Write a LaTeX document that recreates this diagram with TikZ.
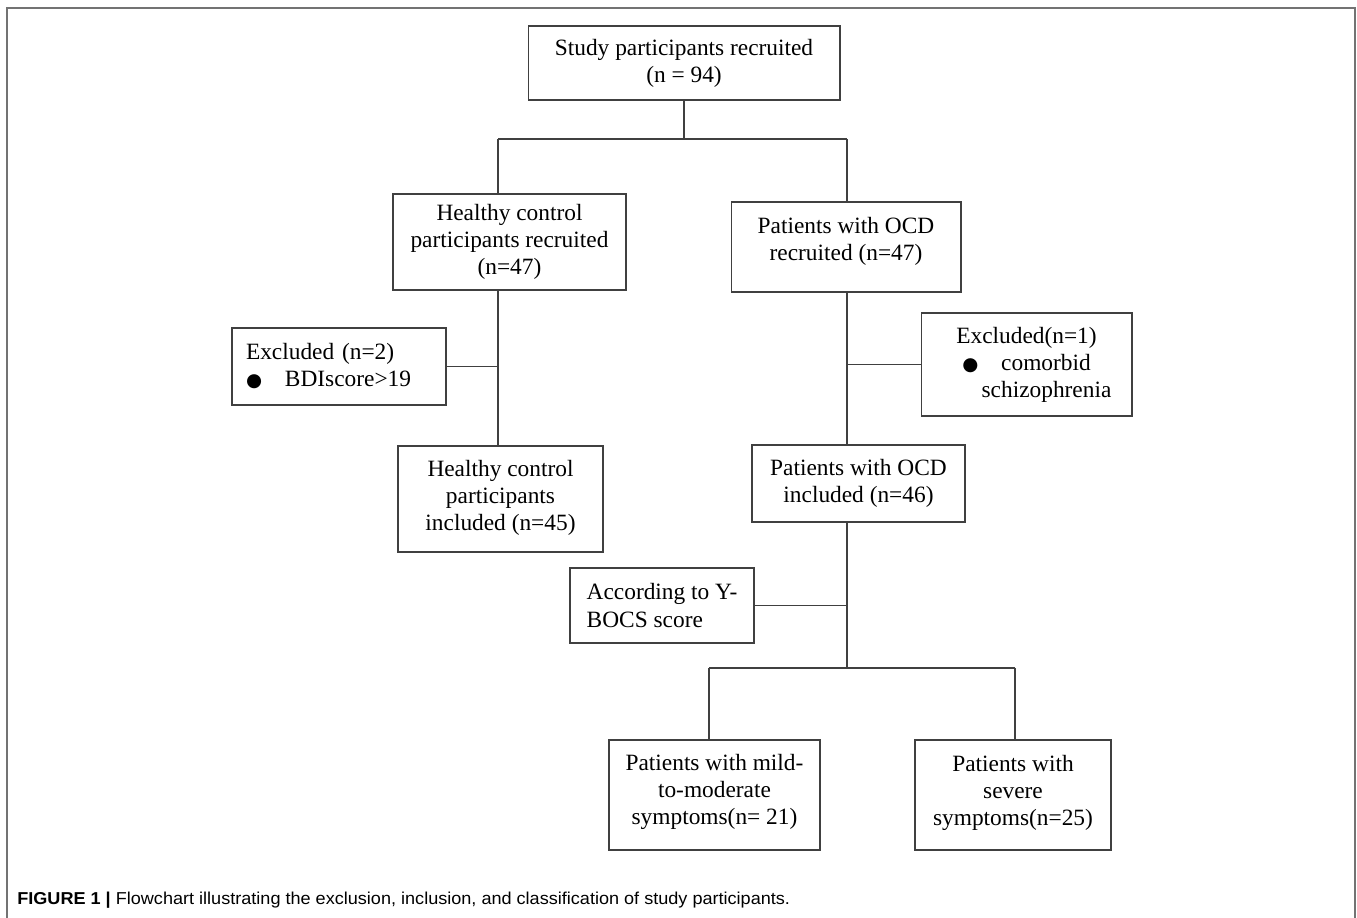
\documentclass[tikz,border=0pt]{standalone}
\usepackage{fontspec}
\setmainfont{Liberation Serif}
\newfontfamily\capfont[FakeStretch=1.05]{Liberation Sans}
\newfontfamily\dotfont{DejaVu Sans}
\usetikzlibrary{positioning, calc}
\newcommand{\blt}{{\dotfont\fontsize{10.5}{12}\selectfont ●}\hspace{13pt}}
\tikzset{
  box/.style={draw=black!75, line width=0.6pt, fill=white, align=center, inner sep=2pt, font=\fontsize{13.3}{15.4}\selectfont},
  sz/.style 2 args={minimum width=#1cm, minimum height=#2cm},
  lbox/.style={align=left, inner xsep=#1cm},
  lift/.style={text depth=#1cm},
  link/.style={draw=black!75, line width=0.8pt},
  frame/.style={draw=black!55, line width=1.1pt},
  captext/.style={font=\capfont\fontsize{9.8}{11}\selectfont, anchor=base west, inner sep=0pt},
}

\begin{document}
\begin{tikzpicture}[x=0.02cm, y=-0.02cm]
    \useasboundingbox (0,0) rectangle (1357,918);
    \draw[frame] (7,918) -- (7,8) -- (1355,8) -- (1355,918);

    \node[box, sz={6.24}{1.48}] (top) at (684,63) {Study participants recruited\\(n = 94)};
    \node[box, sz={4.66}{1.92}] (hcr) at (509.5,242) {Healthy control\\participants recruited\\(n=47)};
    \node[box, sz={4.60}{1.80}, lift=0.31] (ocdr) at (846,247) {Patients with OCD\\recruited (n=47)};
    \node[box, sz={4.28}{1.54}, lbox=0.28, text width=3.72cm] (exl) at (339,366.5) {Excluded (n=2)\\\blt BDIscore>19};
    \node[box, sz={4.22}{2.06}] (exr) at (1026.5,364.5) {Excluded(n=1)\\\blt comorbid\\\hspace*{0.8cm}schizophrenia};
    \node[box, sz={4.10}{2.12}, lift=0.15] (hci) at (500.5,499) {Healthy control\\participants\\included (n=45)};
    \node[box, sz={4.26}{1.54}] (ocdi) at (858.5,483.5) {Patients with OCD\\included (n=46)};
    \node[box, sz={3.68}{1.50}, align=left] (yb) at (662,605.5) {According to Y-\\BOCS score};
    \node[box, sz={4.22}{2.20}, lift=0.23] (mild) at (714.5,795) {Patients with mild-\\to-moderate\\symptoms(n= 21)};
    \node[box, sz={3.92}{2.20}, lift=0.19] (sev) at (1013,795) {Patients with\\severe\\symptoms(n=25)};

    \coordinate (split) at (684,139);
    \coordinate (lsplit) at (498,139);
    \coordinate (rsplit) at (847,139);
    \coordinate (bsplit) at (847,668);
    \coordinate (mleft) at (709,668);
    \coordinate (mright) at (1015,668);

    \draw[link] (top.south) -- (split);
    \draw[link] (lsplit) -- (rsplit);
    \draw[link] (lsplit) -- (lsplit |- hcr.north);
    \draw[link] (rsplit) -- (rsplit |- ocdr.north);
    \draw[link] (lsplit |- hcr.south) -- (lsplit |- hci.north);
    \draw[link] (exl.east) -- (exl.east -| lsplit);
    \draw[link] (rsplit |- ocdr.south) -- (rsplit |- ocdi.north);
    \draw[link] (exr.west) -- (exr.west -| rsplit);
    \draw[link] (rsplit |- ocdi.south) -- (bsplit);
    \draw[link] (yb.east) -- (yb.east -| rsplit);
    \draw[link] (mleft) -- (mright);
    \draw[link] (mleft) -- (mleft |- mild.north);
    \draw[link] (mright) -- (mright |- sev.north);

    \node[captext] (caption) at (17,905) {\textbf{FIGURE 1 |} Flowchart illustrating the exclusion, inclusion, and classification of study participants.};
  \end{tikzpicture}
\end{document}
